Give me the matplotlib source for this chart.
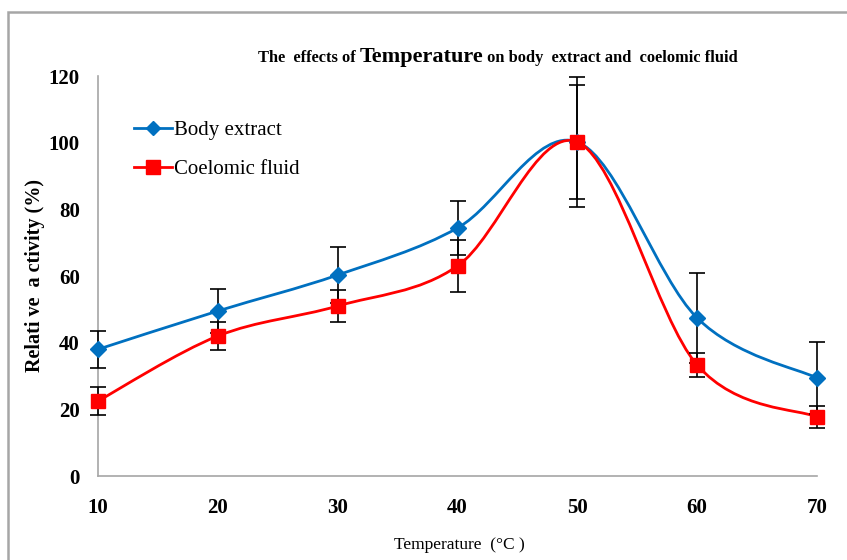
import numpy as np
import matplotlib
matplotlib.use("Agg")
import matplotlib.pyplot as plt
from matplotlib.path import Path
from matplotlib.patches import PathPatch, Rectangle
from matplotlib.lines import Line2D

temps = [10, 20, 30, 40, 50, 60, 70]
body_extract = [38, 49.5, 60.3, 74.4, 100.2, 47.4, 29.4]
body_err = [5.5, 6.5, 8.4, 8.1, 19.5, 13.5, 10.8]
coelomic = [22.5, 42, 51, 63, 100.2, 33.3, 17.7]
coel_err = [4.2, 4.2, 4.8, 7.8, 17.0, 3.6, 3.3]
y_ticks = [0, 20, 40, 60, 80, 100, 120]

BLUE = "#0070C0"
RED = "#FF0000"
SERIF = ["Liberation Serif", "DejaVu Serif"]

W, H = 847, 560
fig = plt.figure(figsize=(W / 100, H / 100), dpi=100)
fig.patch.set_facecolor("white")

# chart border
fig.add_artist(Rectangle((8 / W, -0.1), 1.2, 1 - 12 / H + 0.1, transform=fig.transFigure,
                         fill=False, edgecolor="#A6A6A6", linewidth=1.8))

ax = fig.add_axes([98 / W, 1 - 476 / H, (817 - 98) / W, (476 - 76) / H])


def smooth_path(xs, ys):
    pts = np.column_stack([xs, ys]).astype(float)
    n = len(pts)
    verts = [pts[0]]
    codes = [Path.MOVETO]
    for i in range(n - 1):
        p0 = pts[i - 1] if i > 0 else pts[i]
        p1 = pts[i]
        p2 = pts[i + 1]
        p3 = pts[i + 2] if i + 2 < n else pts[i + 1]
        c1 = p1 + (p2 - p0) / 6.0
        c2 = p2 - (p3 - p1) / 6.0
        verts += [c1, c2, p2]
        codes += [Path.CURVE4] * 3
    return Path(verts, codes)


for ys, errs, color, marker, ms, label in [
    (body_extract, body_err, BLUE, "D", 8.5, "Body extract"),
    (coelomic, coel_err, RED, "s", 10, "Coelomic fluid"),
]:
    ax.add_patch(PathPatch(smooth_path(temps, ys), facecolor="none", edgecolor=color,
                           linewidth=2.0, zorder=3, clip_on=False))
    ax.errorbar(temps, ys, yerr=errs, fmt="none", ecolor="black", elinewidth=1.2,
                capsize=5.5, capthick=1.2, zorder=4, clip_on=False)
    ax.plot(temps, ys, linestyle="none", marker=marker, color=color, markersize=ms,
            zorder=5, clip_on=False)

ax.set_xlim(10, 70)
ax.set_ylim(0, 120)
ax.set_xticks(temps)
ax.set_yticks(y_ticks)
ax.set_xticklabels([str(t) for t in temps], fontfamily=SERIF, fontweight="bold", fontsize=15)
ax.set_yticklabels([str(t) for t in y_ticks], fontfamily=SERIF, fontweight="bold", fontsize=15)
ax.tick_params(axis="both", length=0)
ax.tick_params(axis="x", pad=16)
ax.tick_params(axis="y", pad=13)
for s in ["top", "right"]:
    ax.spines[s].set_visible(False)
for s in ["left", "bottom"]:
    ax.spines[s].set_color("#A6A6A6")
    ax.spines[s].set_linewidth(1.2)

fig.text(35 / W, 1 - 275 / H, "Relati ve  a ctivity (%)", rotation=90, ha="center", va="center",
         fontfamily=SERIF, fontweight="bold", fontsize=14.5)
fig.text(459 / W, 1 - 545 / H, "Temperature  (°C )", ha="center", va="center",
         fontfamily=SERIF, fontsize=12.5)

# legend
handles = [
    Line2D([], [], color=BLUE, marker="D", markersize=7, linewidth=2.0),
    Line2D([], [], color=RED, marker="s", markersize=10, linewidth=2.0),
]
leg = fig.legend(handles, ["Body extract", "Coelomic fluid"], loc="upper left",
                 bbox_to_anchor=(126 / W, 1 - 112 / H), frameon=False,
                 prop={"family": SERIF, "size": 15}, handlelength=1.8,
                 handletextpad=0.1, labelspacing=0.95, borderaxespad=0)

# title in three pieces
renderer = fig.canvas.get_renderer()
parts = [("The  effects of ", 11.8, "bold"), ("Temperature", 16, "bold"),
         (" on body  extract and  coelomic fluid", 11.8, "bold")]
texts = []
for s, fs, fw in parts:
    t = fig.text(0, 1 - 62 / H, s, ha="left", va="baseline", fontfamily=SERIF,
                 fontsize=fs, fontweight=fw)
    texts.append(t)
widths = [t.get_window_extent(renderer).width for t in texts]
total = sum(widths)
x = (498 - total / 2)
for t, w in zip(texts, widths):
    t.set_x(x / W)
    x += w

fig.savefig("out.png", dpi=100)
